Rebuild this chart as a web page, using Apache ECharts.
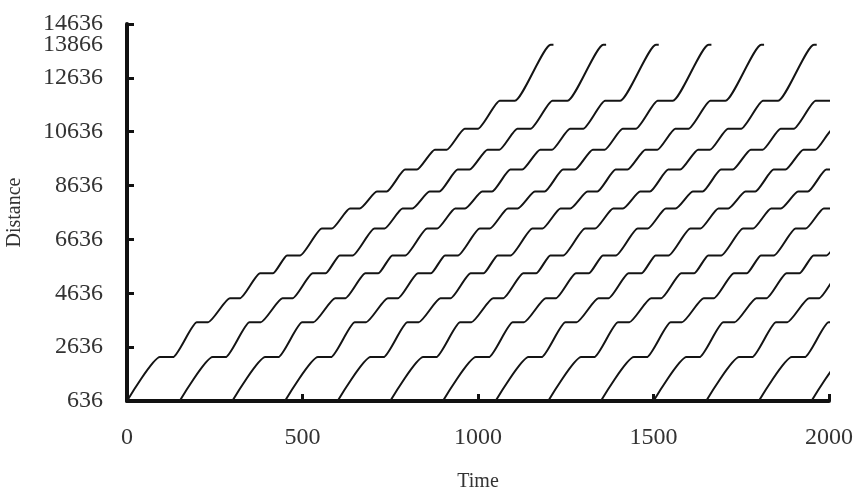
<html>
<head>
<meta charset="UTF-8">
<script src="https://cdn.jsdelivr.net/npm/echarts@6.0.0/dist/echarts.min.js"></script>
</head>
<body style="margin:0;background:#fff">
<div id="chart" style="width:856px;height:491px"></div>
<script>
// station positions (distance) and the first train's timetable
var stationDist = [636, 2266, 3562, 4451, 5377, 6043, 7043, 7784, 8414, 9229, 9969, 10747, 11784, 13866];
var arriveTime  = [0, 94, 199, 293, 379, 456, 555, 635, 712, 792, 877, 962, 1062, 1207];
var departTime  = [0, 131, 231, 322, 416, 493, 584, 663, 740, 826, 911, 1000, 1105, 1215];
// each later train runs the same timetable, shifted by its start time
var trainStart  = [0, 150, 300, 450, 600, 750, 900, 1050, 1200, 1350, 1500, 1650, 1800, 1950];
var yTicks      = [636, 2636, 4636, 6636, 8636, 10636, 12636, 14636];
var yExtraLabel = [13866];   // terminal station, labelled without a tick

var chart = echarts.init(document.getElementById('chart'));

var series = trainStart.map(function (s) {
	var pts = [];
	for (var i = 0; i < stationDist.length; i++) {
		pts.push([arriveTime[i] + s, stationDist[i]]);
		if (departTime[i] != arriveTime[i]) pts.push([departTime[i] + s, stationDist[i]]);
	}
	return {
		type: 'line', data: pts, showSymbol: false, smooth: 0.2, smoothMonotone: 'x',
		lineStyle: {color: '#141414', width: 2}, silent: true, animation: false
	};
});

var font = 'Liberation Serif';
function plain(v) { return String(v); }

chart.setOption({
	backgroundColor: '#fff',
	animation: false,
	grid: {left: 127, right: 27, top: 24, bottom: 90, outerBoundsMode: 'none'},
	xAxis: {
		type: 'value', min: 0, max: 2000, interval: 500,
		name: 'Time', nameLocation: 'middle', nameGap: 71,
		nameTextStyle: {fontFamily: font, fontSize: 20, color: '#333'},
		axisLine: {lineStyle: {color: '#111', width: 4}},
		axisTick: {inside: true, length: 7, lineStyle: {color: '#111', width: 3}},
		axisLabel: {fontFamily: font, fontSize: 24, color: '#333', margin: 25, formatter: plain},
		splitLine: {show: false}
	},
	yAxis: [{
		type: 'value', min: 636, max: 14636,
		name: 'Distance', nameLocation: 'middle', nameGap: 102,
		nameTextStyle: {fontFamily: font, fontSize: 20, color: '#333'},
		axisLine: {show: true, lineStyle: {color: '#111', width: 4}},
		axisTick: {show: true, inside: true, length: 7, customValues: yTicks, lineStyle: {color: '#111', width: 3}},
		axisLabel: {fontFamily: font, fontSize: 24, color: '#333', margin: 24, customValues: yTicks,
			showMinLabel: true, showMaxLabel: true, formatter: plain},
		splitLine: {show: false}
	}, {
		type: 'value', min: 636, max: 14636, position: 'left',
		axisLine: {show: false}, axisTick: {show: false}, splitLine: {show: false},
		axisLabel: {fontFamily: font, fontSize: 24, color: '#333', margin: 24, customValues: yExtraLabel,
			padding: [18, 0, 0, 0], formatter: plain}
	}],
	series: series
});
</script>
</body>
</html>
